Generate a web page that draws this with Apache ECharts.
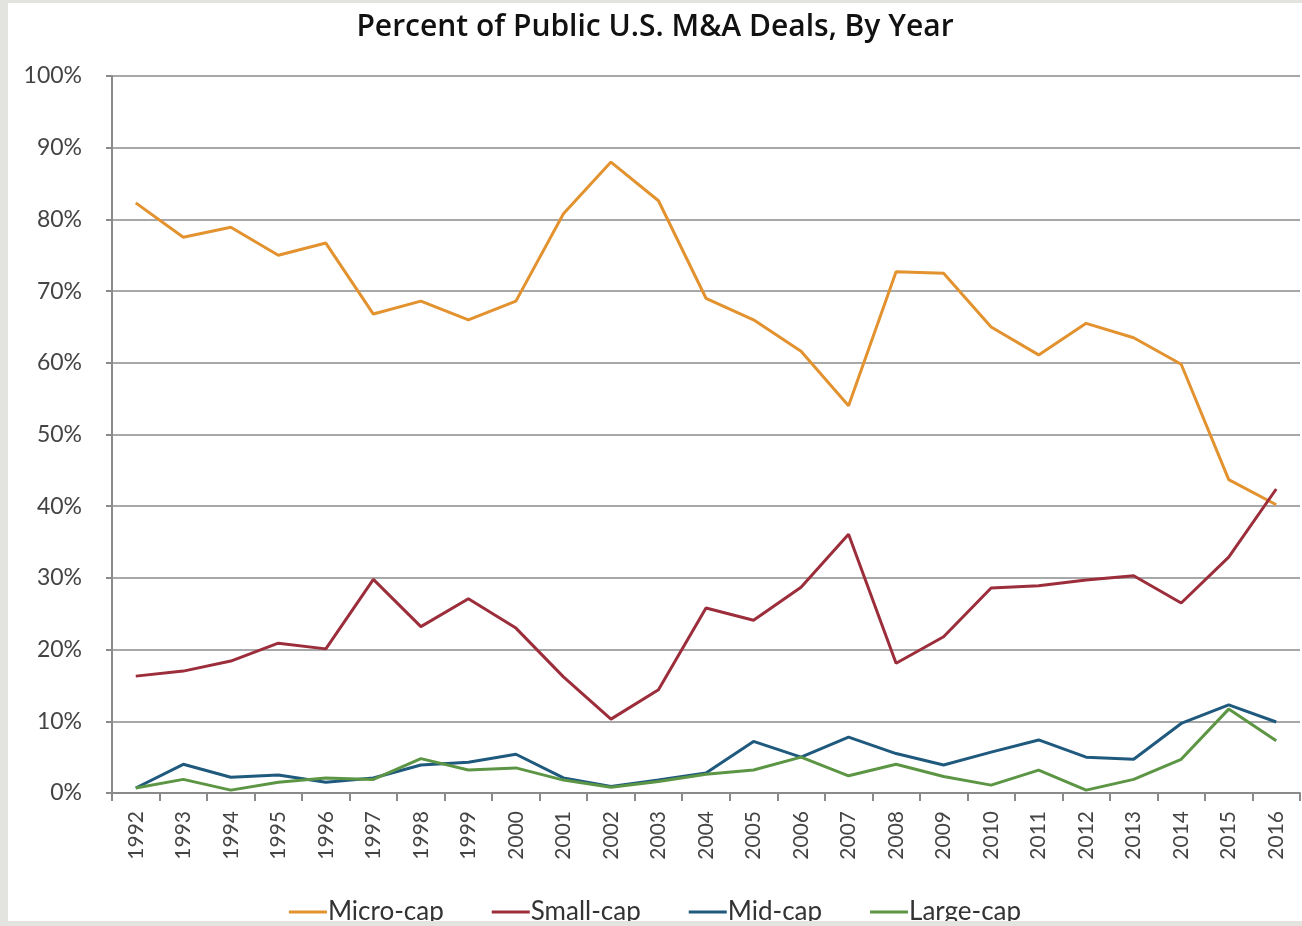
<!DOCTYPE html>
<html>
<head>
<meta charset="utf-8">
<script src="https://cdn.jsdelivr.net/npm/echarts@6/dist/echarts.min.js"></script>
<style>
  html, body { margin: 0; padding: 0; background: #e3e4df; }
  #main { position: absolute; left: 8px; top: 3px; width: 1294px; height: 918px; background: #fff; }
</style>
</head>
<body>
<div id="main"></div>
<script>
// years on the x axis
var years = ['1992', '1993', '1994', '1995', '1996', '1997', '1998', '1999', '2000', '2001', '2002', '2003',
  '2004', '2005', '2006', '2007', '2008', '2009', '2010', '2011', '2012', '2013', '2014', '2015', '2016'];

// percent of deals
var microCap = [82.3, 77.5, 78.9, 75.0, 76.7, 66.8, 68.6, 66.0, 68.6, 80.8, 88.0, 82.6,
  69.0, 66.0, 61.6, 54.0, 72.7, 72.5, 65.0, 61.1, 65.5, 63.5, 59.8, 43.7, 40.2];
var smallCap = [16.3, 17.0, 18.4, 20.9, 20.1, 29.8, 23.2, 27.1, 23.0, 16.2, 10.3, 14.4,
  25.8, 24.1, 28.7, 36.1, 18.1, 21.8, 28.6, 28.9, 29.7, 30.3, 26.5, 32.9, 42.4];
var midCap = [0.7, 4.0, 2.2, 2.5, 1.5, 2.1, 3.9, 4.3, 5.4, 2.1, 0.9, 1.8,
  2.8, 7.2, 5.0, 7.8, 5.5, 3.9, 5.7, 7.4, 5.0, 4.7, 9.7, 12.3, 9.9];
var largeCap = [0.7, 1.9, 0.4, 1.5, 2.1, 1.9, 4.8, 3.2, 3.5, 1.8, 0.8, 1.6,
  2.6, 3.2, 5.0, 2.4, 4.0, 2.3, 1.1, 3.2, 0.4, 1.9, 4.7, 11.7, 7.3];

var seriesNames = ['Micro-cap', 'Small-cap', 'Mid-cap', 'Large-cap'];
var colors = ['#e2922f', '#9c2d3b', '#1f5a7e', '#5c9645'];

var chart = echarts.init(document.getElementById('main'));

function makeLine(name, data, color) {
  return {
    name: name,
    type: 'line',
    data: data,
    symbol: 'none',
    color: color,
    lineStyle: { width: 3, color: color },
    emphasis: { disabled: true }
  };
}

var option = {
  animation: false,
  title: {
    text: 'Percent of Public U.S. M&A Deals, By Year',
    left: 'center',
    top: 4,
    textStyle: { fontFamily: 'Open Sans', fontWeight: 600, fontSize: 30, color: '#111' }
  },
  legend: {
    top: 891,
    left: 'center',
    itemWidth: 38,
    itemHeight: 3,
    itemGap: 48,
    icon: 'rect',
    data: seriesNames,
    textStyle: { fontFamily: 'Lato', fontSize: 26, color: '#333', padding: [0, 0, 0, -4] }
  },
  grid: { left: 104, right: 2, top: 73, bottom: 128 },
  xAxis: {
    type: 'category',
    data: years,
    boundaryGap: true,
    axisLine: { lineStyle: { color: '#8a8a8a', width: 2 } },
    axisTick: { show: true, length: 8, lineStyle: { color: '#8a8a8a', width: 2 } },
    axisLabel: {
      rotate: 90,
      interval: 0,
      margin: 18,
      fontFamily: 'Lato',
      fontSize: 21,
      color: '#444'
    }
  },
  yAxis: {
    type: 'value',
    min: 0,
    max: 100,
    interval: 10,
    axisLine: { show: true, lineStyle: { color: '#8a8a8a', width: 2 } },
    axisTick: { show: true, length: 6, lineStyle: { color: '#8a8a8a', width: 2 } },
    splitLine: { lineStyle: { color: '#a8a8a8', width: 2 } },
    axisLabel: {
      formatter: '{value}%',
      margin: 30,
      fontFamily: 'Lato',
      fontSize: 23,
      color: '#444'
    }
  },
  series: [
    makeLine(seriesNames[0], microCap, colors[0]),
    makeLine(seriesNames[1], smallCap, colors[1]),
    makeLine(seriesNames[2], midCap, colors[2]),
    makeLine(seriesNames[3], largeCap, colors[3])
  ]
};

chart.setOption(option);
</script>
</body>
</html>
